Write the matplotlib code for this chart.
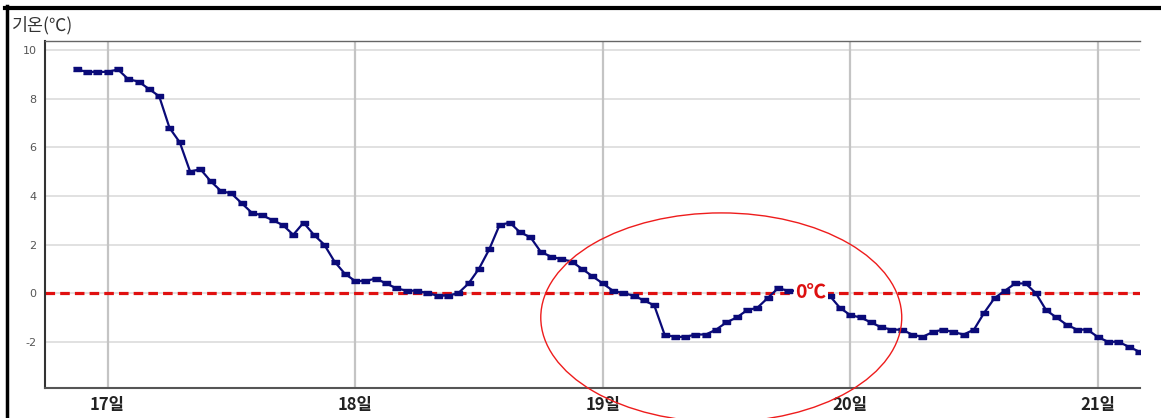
import numpy as np
import matplotlib
matplotlib.use("Agg")
from matplotlib import pyplot as plt
from matplotlib.patches import Ellipse
from matplotlib.lines import Line2D

plt.rcParams['font.family'] = ['Noto Sans CJK KR', 'DejaVu Sans']

# hourly temperatures, hour 0 = 17th 00:00
hours = list(range(-3, 101))
temp = [9.2, 9.1, 9.1, 9.1, 9.2, 8.8, 8.7, 8.4, 8.1, 6.8, 6.2, 5.0, 5.1, 4.6, 4.2, 4.1, 3.7, 3.3, 3.2, 3.0,
        2.8, 2.4, 2.9, 2.4, 2.0, 1.3, 0.8, 0.5, 0.5, 0.6, 0.4, 0.2, 0.1, 0.1, 0.0, -0.1, -0.1, 0.0, 0.4, 1.0, 1.8, 2.8,
        2.9, 2.5, 2.3, 1.7, 1.5, 1.4, 1.3, 1.0, 0.7, 0.4, 0.1, 0.0, -0.1, -0.3, -0.5, -1.7, -1.8, -1.8, -1.7, -1.7,
        -1.5, -1.2, -1.0, -0.7, -0.6, -0.2, 0.2, 0.1,
        0.1, 0.0, 0.0, -0.1,
        -0.6, -0.9, -1.0, -1.2, -1.4, -1.5, -1.5, -1.7, -1.8, -1.6, -1.5, -1.6, -1.7, -1.5, -0.8, -0.2, 0.1, 0.4, 0.4,
        0.0, -0.7, -1.0, -1.3, -1.5, -1.5, -1.8, -2.0, -2.0, -2.2, -2.4]

day_pos = [0, 24, 48, 72, 96]
day_labels = ["17일", "18일", "19일", "20일", "21일"]
y_ticks = [-2, 0, 2, 4, 6, 8, 10]

fig = plt.figure(figsize=(11.61, 4.18), dpi=100)
ax = fig.add_axes([45/1161, 30/418, 1095/1161, 347/418])

ax.set_xlim(-6.07, 100.1)
ax.set_ylim(-3.9, 10.37)

# grid
for yt in y_ticks:
    ax.axhline(yt, color="#dcdcdc", lw=1.2, zorder=0)
for d in day_pos:
    ax.axvline(d, color="#c4c4c4", lw=1.6, zorder=0)

ax.axhline(0, color="#e01010", lw=2.3, dashes=(3, 1.6), zorder=2)

rect = [(-1, -0.55), (1, -0.55), (1, 0.55), (-1, 0.55)]
ax.plot(hours, temp, color="#0a0a78", lw=1.6, marker=rect, markersize=6, zorder=3)

ax.text(68.2, 0, "0℃", color="#dd1010", fontsize=14, fontweight="bold",
        ha="center", va="center", zorder=4,
        bbox=dict(facecolor="white", edgecolor="none", pad=1.0))

ell = Ellipse((59.5, -1.0), 35.0, 8.6, fill=False, edgecolor="#ee1c1c", lw=1.0,
              clip_on=False, zorder=5)
ax.add_patch(ell)

ax.set_yticks(y_ticks)
ax.set_yticklabels([str(v) for v in y_ticks], family="DejaVu Sans", fontsize=8, color="#555555")
ax.set_xticks(day_pos)
ax.set_xticklabels(day_labels, fontsize=12, fontweight="bold", color="#222222")
ax.tick_params(axis="y", length=0, pad=6)
ax.tick_params(axis="x", length=0, pad=6)

ax.spines["right"].set_visible(False)
ax.spines["left"].set_color("#333333")
ax.spines["left"].set_linewidth(1.5)
ax.spines["bottom"].set_color("#555555")
ax.spines["bottom"].set_linewidth(1.5)
ax.spines["top"].set_color("#666666")
ax.spines["top"].set_linewidth(1.0)

fig.text(12/1161, 1 - 25/418, "기온(℃)", fontsize=12.5, color="#333333", va="center", ha="left")

# screenshot frame
fig.add_artist(Line2D([5/1161, 1], [1 - 8/418, 1 - 8/418], color="black", lw=3, transform=fig.transFigure))
fig.add_artist(Line2D([6.5/1161, 6.5/1161], [0, 1 - 6/418], color="black", lw=2.5, transform=fig.transFigure))

fig.savefig("out.png", dpi=100)
